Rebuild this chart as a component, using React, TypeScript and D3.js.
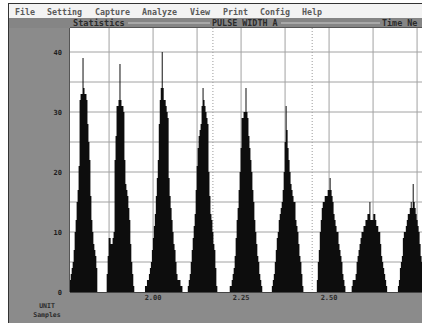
import React from "react";
import * as d3 from "d3";

// ---------- data ----------
const menuItems = ["File", "Setting", "Capture", "Analyze", "View", "Print", "Config", "Help"];
const titleLeft = "Statistics";
const titleCenter = "PULSE WIDTH A";
const titleRight = "Time Ne";
const yTickValues = [0, 10, 20, 30, 40];
const yGridValues = [5, 10, 15, 20, 25, 30, 35, 40];
const xTickValues = [2.0, 2.25, 2.5];
const xTickLabels = ["2.00", "2.25", "2.50"];
const xGridValues = [1.875, 2.0, 2.125, 2.25, 2.375, 2.5, 2.625, 2.75];
const cursorValues = [2.17, 2.452];
const unitLabel = ["UNIT", "Samples"];

const binWidth = 0.0028;
const peakCenters = [1.801, 1.906, 2.026, 2.142, 2.264, 2.378, 2.503, 2.616, 2.739];
const peakFirstOffsets = [-15, -15, -17, -15, -16, -14, -13, -18, -15];
const peak1 = [0, 1, 2, 3, 4, 5, 7, 10, 12, 15, 17, 21, 32, 33, 33, 39, 34, 33, 33, 32, 28, 25, 22, 16, 12, 10, 8, 7, 6, 4];
const peak2 = [0, 0, 3, 6, 9, 9, 8, 8, 9, 10, 22, 26, 31, 31, 32, 38, 32, 31, 31, 30, 22, 18, 17, 16, 14, 12, 8, 5, 3, 1];
const peak3 = [1, 1, 2, 2, 3, 4, 5, 7, 9, 11, 13, 16, 19, 22, 28, 32, 34, 40, 34, 32, 32, 31, 30, 29, 19, 16, 14, 12, 10, 8, 7, 5, 3, 2, 2, 2, 1, 1];
const peak4 = [1, 2, 3, 5, 7, 9, 11, 13, 17, 21, 24, 26, 27, 28, 31, 34, 32, 31, 30, 29, 28, 20, 16, 13, 12, 10, 8, 7, 4, 1];
const peak5 = [1, 1, 2, 3, 4, 6, 9, 12, 14, 17, 20, 24, 29, 29, 30, 30, 34, 30, 29, 26, 24, 22, 20, 17, 15, 12, 10, 8, 6, 5, 3, 2, 1];
const peak6 = [1, 2, 3, 5, 7, 9, 10, 12, 13, 14, 15, 17, 20, 25, 31, 27, 24, 22, 20, 18, 17, 16, 15, 15, 12, 11, 10, 8, 6, 5, 3, 1];
const peak7 = [2, 5, 7, 10, 12, 14, 15, 15, 16, 16, 16, 17, 17, 19, 17, 16, 15, 13, 12, 11, 10, 10, 8, 7, 6, 5, 3, 2, 1];
const peak8 = [1, 2, 2, 2, 3, 5, 6, 7, 8, 9, 10, 10, 11, 11, 12, 12, 13, 13, 15, 12, 12, 12, 13, 13, 12, 11, 11, 10, 10, 8, 6, 5, 4, 3, 2, 1];
const peak9 = [1, 2, 4, 5, 6, 9, 10, 10, 11, 12, 13, 13, 14, 15, 14, 18, 15, 14, 13, 12, 11, 10, 8, 6, 5];
const peakCounts = [peak1, peak2, peak3, peak4, peak5, peak6, peak7, peak8, peak9];

// ---------- layout ----------
const W = 422;
const H = 323;
const plot = { left: 70, right: 422, top: 28, bottom: 292 };
const menuX = [15, 47, 95, 142, 190, 223, 260, 302];
const GRAY = "#8b8b8b";

export default function App() {
  const x = d3.scaleLinear().domain([1.764, 2.764]).range([plot.left, plot.right]);
  const y = d3.scaleLinear().domain([0, 44]).range([plot.bottom, plot.top]);

  const area = d3
    .area<{ x: number; v: number }>()
    .curve(d3.curveStepAfter)
    .x((d) => x(d.x))
    .y0(y(0))
    .y1((d) => y(d.v));

  const peakPaths = peakCounts.map((counts, i) => {
    const start = peakCenters[i] + peakFirstOffsets[i] * binWidth - binWidth / 2;
    const pts = counts.map((c, j) => ({ x: start + j * binWidth, v: c }));
    pts.push({ x: start + counts.length * binWidth, v: 0 });
    return area(pts) || "";
  });

  const mono = "'DejaVu Sans Mono', 'Liberation Mono', monospace";

  return (
    <svg
      width={W}
      height={H}
      viewBox={`0 0 ${W} ${H}`}
      style={{ position: "absolute", left: 0, top: 0, display: "block" }}
    >
      <defs>
        <clipPath id="plotClip">
          <rect x={plot.left} y={plot.top} width={plot.right - plot.left} height={plot.bottom - plot.top} />
        </clipPath>
      </defs>
      <rect x={0} y={0} width={W} height={H} fill="#ffffff" />
      <rect x={8} y={3} width={W - 8} height={H - 3} fill={GRAY} />
      {/* menu bar */}
      <rect x={9} y={4} width={W - 9} height={14} fill="#f3f3f3" />
      <line x1={8.5} y1={3} x2={8.5} y2={H} stroke="#333" strokeWidth={1} />
      <line x1={8} y1={3.5} x2={W} y2={3.5} stroke="#333" strokeWidth={1} />
      {menuItems.map((m, i) => (
        <text key={m} x={menuX[i]} y={14.5} fontFamily={mono} fontSize={8.3} fontWeight="bold" fill="#5a5a5a">
          {m}
        </text>
      ))}
      {/* title band */}
      <rect x={9} y={18} width={W - 9} height={10} fill="#858585" />
      <line x1={128} y1={23} x2={210} y2={23} stroke="#a8a8a8" strokeWidth={2} />
      <line x1={281} y1={23} x2={380} y2={23} stroke="#a8a8a8" strokeWidth={2} />
      <text x={73} y={26} fontFamily={mono} fontSize={8.6} fontWeight="bold" fill="#2a2a2a">
        {titleLeft}
      </text>
      <text x={212} y={26} fontFamily={mono} fontSize={8.4} fontWeight="bold" fill="#2a2a2a">
        {titleCenter}
      </text>
      <text x={382} y={26} fontFamily={mono} fontSize={8.4} fontWeight="bold" fill="#2a2a2a">
        {titleRight}
      </text>
      {/* plot */}
      <rect x={plot.left} y={plot.top} width={plot.right - plot.left} height={plot.bottom - plot.top} fill="#ffffff" />
      <line x1={plot.left} y1={plot.top - 0.5} x2={plot.right} y2={plot.top - 0.5} stroke="#555" strokeWidth={1} />
      {yGridValues.map((v) => (
        <line key={"yg" + v} x1={plot.left} x2={plot.right} y1={y(v)} y2={y(v)} stroke="#a2a2a2" strokeWidth={1} />
      ))}
      {xGridValues.map((v) => (
        <line key={"xg" + v} x1={x(v)} x2={x(v)} y1={plot.top} y2={plot.bottom} stroke="#a2a2a2" strokeWidth={1} />
      ))}
      {cursorValues.map((v) => (
        <line
          key={"c" + v}
          x1={x(v)}
          x2={x(v)}
          y1={plot.top}
          y2={plot.bottom}
          stroke="#9a9a9a"
          strokeWidth={1}
          strokeDasharray="1,2"
        />
      ))}
      <g clipPath="url(#plotClip)">
        {peakPaths.map((p, i) => (
          <path key={"p" + i} d={p} fill="#0d0d0d" />
        ))}
      </g>
      <line x1={plot.left - 0.5} y1={plot.top} x2={plot.left - 0.5} y2={plot.bottom} stroke="#555" strokeWidth={1} />
      <line x1={plot.left} y1={plot.bottom + 0.5} x2={plot.right} y2={plot.bottom + 0.5} stroke="#444" strokeWidth={1} />
      {/* y labels */}
      {yTickValues.map((v) => (
        <text
          key={"yt" + v}
          x={62}
          y={y(v) + 2.5}
          textAnchor="end"
          fontFamily={mono}
          fontSize={7}
          fontWeight="bold"
          fill="#1e1e1e"
        >
          {v}
        </text>
      ))}
      {/* x labels */}
      {xTickValues.map((v, i) => (
        <text
          key={"xt" + v}
          x={x(v)}
          y={300}
          textAnchor="middle"
          fontFamily={mono}
          fontSize={7}
          fontWeight="bold"
          fill="#2a2a2a"
        >
          {xTickLabels[i]}
        </text>
      ))}
      {/* unit label */}
      {unitLabel.map((t, i) => (
        <text
          key={t}
          x={47}
          y={308 + i * 9}
          textAnchor="middle"
          fontFamily={mono}
          fontSize={6.5}
          fontWeight="bold"
          fill="#2a2a2a"
        >
          {t}
        </text>
      ))}
    </svg>
  );
}
